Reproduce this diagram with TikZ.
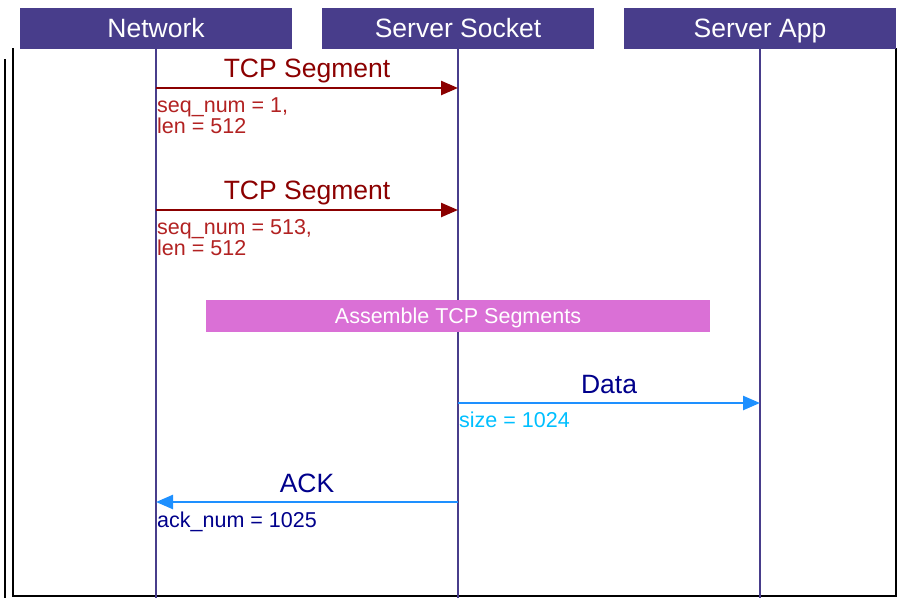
\documentclass[tikz,border=0pt]{standalone}
\usepackage{fontspec}
\setmainfont{Liberation Sans}
\usetikzlibrary{arrows.meta,positioning}

\definecolor{actorblue}{HTML}{483D8B}
\definecolor{segred}{HTML}{8B0000}
\definecolor{notered}{HTML}{B22222}
\definecolor{asmpink}{HTML}{DA70D6}
\definecolor{msgnavy}{HTML}{00008B}
\definecolor{arrowblue}{HTML}{1E90FF}
\definecolor{skyblue}{HTML}{00BFFF}

\begin{document}
\begin{tikzpicture}[
    x=1pt, y=-1pt,
    actor/.style={
        fill=actorblue, text=white,
        minimum width=272pt, minimum height=41pt,
        inner sep=0pt, text height=18.5pt, text depth=0pt,
        font=\fontsize{26.5}{26.5}\selectfont
    },
    lifeline/.style={draw=actorblue, line width=2pt},
    msgtext/.style={anchor=base, inner sep=0pt, font=\fontsize{26.5}{26.5}\selectfont},
    note/.style={anchor=north west, inner sep=0pt, align=left,
        font=\fontsize{21.5}{20}\selectfont},
    segarrow/.style={draw=segred, line width=2.5pt,
        -{Triangle[length=17pt,width=14pt]}},
    dataarrow/.style={draw=arrowblue, line width=2.5pt,
        -{Triangle[length=17pt,width=14pt]}},
    frameline/.style={draw=black, line width=2.5pt}
]
\useasboundingbox (0,0) rectangle (899,598);

% outer frame
\draw[frameline] (5,59) -- (5,598);
\draw[frameline] (13,48) -- (13,596) -- (896,596) -- (896,48);

% actors and their lifelines
\node[actor] (net)  at (156,28.5) {Network};
\node[actor] (sock) at (458,28.5) {Server Socket};
\node[actor] (app)  at (760,28.5) {Server App};
\coordinate (netEnd)  at (156,598);
\coordinate (sockEnd) at (458,598);
\coordinate (appEnd)  at (760,598);
\draw[lifeline] (net)  -- (netEnd);
\draw[lifeline] (sock) -- (sockEnd);
\draw[lifeline] (app)  -- (appEnd);

% first segment
\coordinate (seg1a) at (156,88);
\coordinate (seg1b) at (458,88);
\draw[segarrow] (seg1a) -- (seg1b);
\node[msgtext, text=segred] (seg1) at (307,77.5) {TCP Segment};
\node[note, text=notered] (seg1n) at (157,97.8) {seq\_num = 1,\\len = 512};

% second segment
\coordinate (seg2a) at (156,210);
\coordinate (seg2b) at (458,210);
\draw[segarrow] (seg2a) -- (seg2b);
\node[msgtext, text=segred] (seg2) at (307,199.5) {TCP Segment};
\node[note, text=notered] (seg2n) at (157,218.8) {seq\_num = 513,\\len = 512};

% reassembly
\node[fill=asmpink, text=white, minimum width=504pt, minimum height=32pt,
      inner sep=0pt, text height=15pt, text depth=0pt,
      font=\fontsize{21.5}{21.5}\selectfont] (asm) at (458,316) {Assemble TCP Segments};

% data to the app
\coordinate (dataa) at (458,403);
\coordinate (datab) at (760,403);
\draw[dataarrow] (dataa) -- (datab);
\node[msgtext, text=msgnavy] (data) at (609,393) {Data};
\node[note, text=skyblue] (datan) at (459,411.8) {size = 1024};

% acknowledgement
\coordinate (acka) at (458,502);
\coordinate (ackb) at (156,502);
\draw[dataarrow] (acka) -- (ackb);
\node[msgtext, text=msgnavy] (ack) at (307,492.5) {ACK};
\node[note, text=msgnavy] (ackn) at (157,511.3) {ack\_num = 1025};
\end{tikzpicture}
\end{document}
